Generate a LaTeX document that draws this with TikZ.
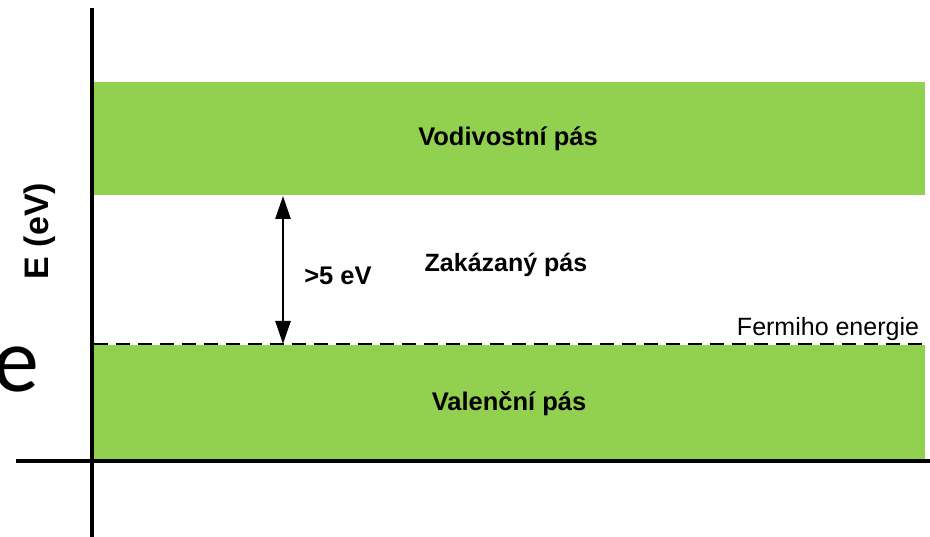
\documentclass[tikz,border=0pt]{standalone}
\usepackage{fontspec}
\setmainfont{Liberation Sans}
\newfontfamily\slidefont{Carlito}
\usetikzlibrary{arrows.meta}
\definecolor{bandgreen}{HTML}{92D050}
\begin{document}
\begin{tikzpicture}[x=1pt,y=-1pt,
  band/.style={fill=bandgreen,draw=none,minimum width=831pt,inner sep=0pt},
  lbl/.style={font=\fontsize{25.5}{29}\selectfont\bfseries,inner sep=0pt},
  axisline/.style={line width=3.5pt},
  fermi/.style={line width=2.2pt,dash pattern=on 14pt off 8pt}]
\useasboundingbox[fill=white] (0,0) rectangle (930,537);
% bands
\node[band,minimum height=113pt] (cb) at (509.5,139) {};
\node[band,minimum height=116pt] (vb) at (509.5,403) {};
% big cropped letter from the slide
\node[anchor=base west,inner sep=0pt,font=\slidefont\fontsize{92}{100}\selectfont] (slidee) at (-7,392) {e};
% axes
\coordinate (ytop) at (92,8);
\coordinate (ybot) at (92,537);
\coordinate (xleft) at (16,461);
\coordinate (xright) at (930,461);
\draw[axisline] (ytop) -- (ybot);
\draw[axisline] (xleft) -- (xright);
% Fermi level
\coordinate (fl) at (94,344);
\coordinate (fr) at (926,344);
\draw[fermi] (fl) -- (fr);
% gap arrow
\coordinate (atop) at (283,196);
\coordinate (abot) at (283,344);
\draw[line width=2.6pt,{Triangle[width=15pt,length=23pt]}-{Triangle[width=15pt,length=23pt]}] (atop) -- (abot);
% labels
\node[lbl] (cbl) at (508,139) {Vodivostní pás};
\node[lbl,font=\fontsize{25}{29}\selectfont\bfseries] (gapl) at (506,265) {Zakázaný pás};
\node[lbl] (vbl) at (509,404) {Valenční pás};
\node[lbl] (ev) at (338,276) {>5 eV};
\node[anchor=base,inner sep=0pt,font=\fontsize{25}{28}\selectfont] (fermil) at (828,336) {Fermiho energie};
\node[lbl,font=\fontsize{34}{38}\selectfont\bfseries,rotate=90] (eaxis) at (40,231) {E (eV)};
\end{tikzpicture}
\end{document}
